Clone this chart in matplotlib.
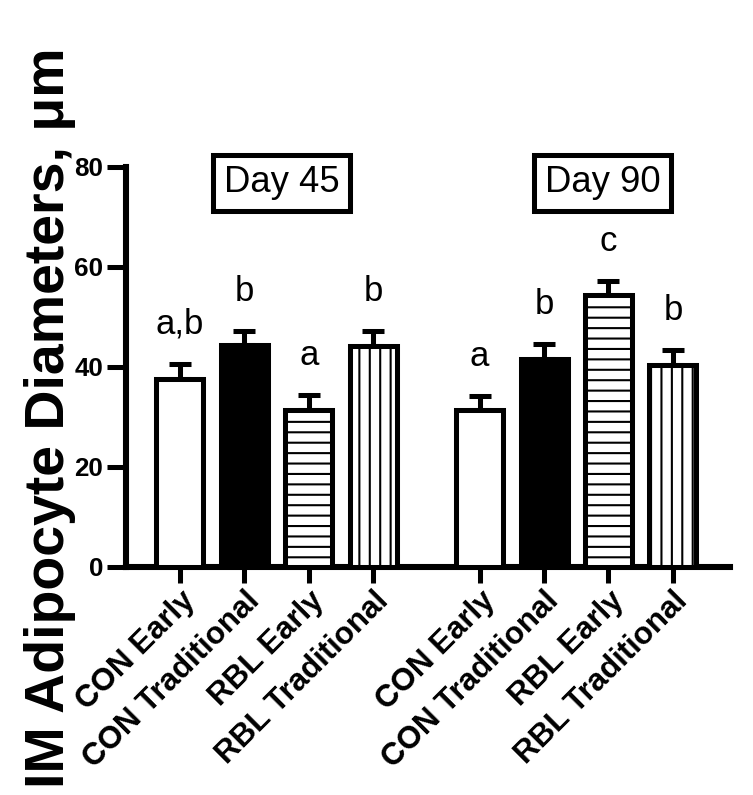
import numpy as np
import matplotlib
matplotlib.use("Agg")
import matplotlib.pyplot as plt

# bar data (um)
groups = ["Day 45", "Day 90"]
treatments = ["CON Early", "CON Traditional", "RBL Early", "RBL Traditional"]
means = [37.5, 44.4, 31.4, 44.2, 31.4, 41.5, 54.3, 40.4]
sems = [3.1, 2.8, 2.9, 3.0, 2.7, 3.0, 2.8, 3.0]
letters = ["a,b", "b", "a", "b", "a", "b", "c", "b"]
fills = ["white", "black", "white", "white"] * 2
hatches = ["", "", "--", "||"] * 2
yticks = [0, 20, 40, 60, 80]

DPI = 125
plt.rcParams["font.family"] = ["Liberation Sans", "DejaVu Sans"]
plt.rcParams["hatch.linewidth"] = 1.2
plt.rcParams["hatch.color"] = "black"

fig = plt.figure(figsize=(753 / DPI, 795 / DPI), dpi=DPI)
ax = fig.add_axes([0.1673, 0.287, 0.8017, 0.503])

# 4 bars per group, a wider gap between the two days
x = np.array([0, 1, 2, 3, 4.65, 5.65, 6.65, 7.65])
ax.bar(x, means, width=0.73, color=fills, hatch=hatches,
       edgecolor="black", linewidth=2.9, zorder=3)
ax.errorbar(x, means, yerr=[np.zeros(len(sems)), sems], fmt="none",
            ecolor="black", elinewidth=2.9, capsize=6.6, capthick=2.9, zorder=2)
for xi, m, s, lab in zip(x, means, sems, letters):
    ax.text(xi, m + s + 6, lab, ha="center", va="baseline", fontsize=20)

for xc, g in zip((1.58, 6.56), groups):
    ax.text(xc, 76.8, g, ha="center", va="center", fontsize=21, clip_on=False,
            bbox=dict(boxstyle="square,pad=0.3", fc="white", ec="black", lw=2.9))

ax.set_xlim(-0.837, 8.53)
ax.set_ylim(0, 80)
ax.set_yticks(yticks)
ax.set_xticks(x)
ax.set_xticklabels(treatments * 2, rotation=45, ha="right", va="top",
                   rotation_mode="anchor", fontsize=18, fontweight="bold")
for t in ax.get_yticklabels():
    t.set_fontweight("bold")
    t.set_fontsize(15)
for s in ("top", "right"):
    ax.spines[s].set_visible(False)
for s in ("left", "bottom"):
    ax.spines[s].set_linewidth(3.5)
ax.tick_params(width=2.9, pad=2)
ax.tick_params(axis="y", length=11)
ax.tick_params(axis="x", length=9)

fig.text(50 / 753, 0.475, "IM Adipocyte Diameters, \u03bcm", rotation=90,
         ha="center", va="center", fontsize=32, fontweight="bold")

fig.savefig("out.png", dpi=DPI)
